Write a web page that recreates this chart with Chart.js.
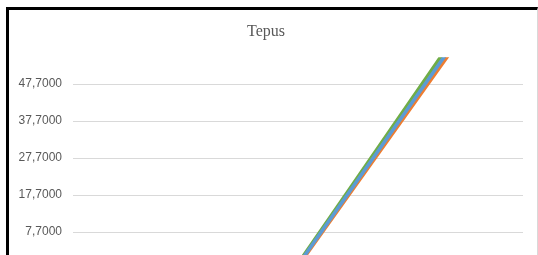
<!DOCTYPE html>
<html>
<head>
<meta charset="utf-8">
<script src="https://cdn.jsdelivr.net/npm/chart.js@4"></script>
<style>
  html, body { margin: 0; padding: 0; background: #fff; overflow: hidden; }
  #frame {
    position: absolute; left: 6px; top: 7px;
    width: 528px; height: 300px;
    border-left: 3px solid #000; border-top: 3px solid #000;
    border-right: 1px solid #d9d9d9;
  }
  #wrap { position: relative; width: 528px; height: 270px; }
</style>
</head>
<body>
<div id="frame"><div id="wrap"><canvas id="tepusChart"></canvas></div></div>
<script>
// data
var categories = ['1', '2', '3', '4'];
var seriesBlue = [-60.0, -22.9, 20.4, 63.8];
var seriesOrange = [-60.0, -22.9, 19.8, 62.5];
var seriesGreen = [-67.0, -22.9, 21.2, 65.3];
var tickValues = [-2.3, 7.7, 17.7, 27.7, 37.7, 47.7];

var ctx = document.getElementById('tepusChart').getContext('2d');
var tepusChart = new Chart(ctx, {
    type: 'line',
    data: {
        labels: categories,
        datasets: [{
            label: 'Serie 1',
            data: seriesBlue,
            borderColor: '#5B9BD5',
            borderWidth: 3.5
        }, {
            label: 'Serie 2',
            data: seriesOrange,
            borderColor: '#ED7D31',
            borderWidth: 3.5
        }, {
            label: 'Serie 3',
            data: seriesGreen,
            borderColor: '#70AD47',
            borderWidth: 3.5
        }]
    },
    options: {
        responsive: true,
        maintainAspectRatio: false,
        animation: false,
        layout: { padding: { left: 0, right: 14, top: 0, bottom: 11 } },
        elements: {
            point: { radius: 0 },
            line: { tension: 0 }
        },
        datasets: { line: { clip: 0 } },
        plugins: {
            legend: { display: false },
            tooltip: { enabled: false },
            title: {
                display: true,
                text: 'Tepus',
                color: '#595959',
                font: { family: '"Liberation Serif", serif', size: 16, weight: 'normal' },
                padding: { top: 12, bottom: 16 }
            }
        },
        scales: {
            x: {
                display: false,
                offset: true
            },
            y: {
                min: -2.3,
                max: 55,
                border: { display: false },
                grid: { color: '#d9d9d9', lineWidth: 1, drawTicks: false },
                afterBuildTicks: function (scale) {
                    scale.ticks = tickValues.map(function (v) { return { value: v }; });
                },
                afterFit: function (scale) {
                    scale.width = 64;
                    scale.paddingTop = 0;
                    scale.paddingBottom = 0;
                },
                ticks: {
                    padding: 11,
                    color: '#595959',
                    font: { family: '"Liberation Sans", sans-serif', size: 12 },
                    callback: function (value) {
                        return value.toFixed(4).replace('.', ',');
                    }
                }
            }
        }
    }
});
</script>
</body>
</html>
